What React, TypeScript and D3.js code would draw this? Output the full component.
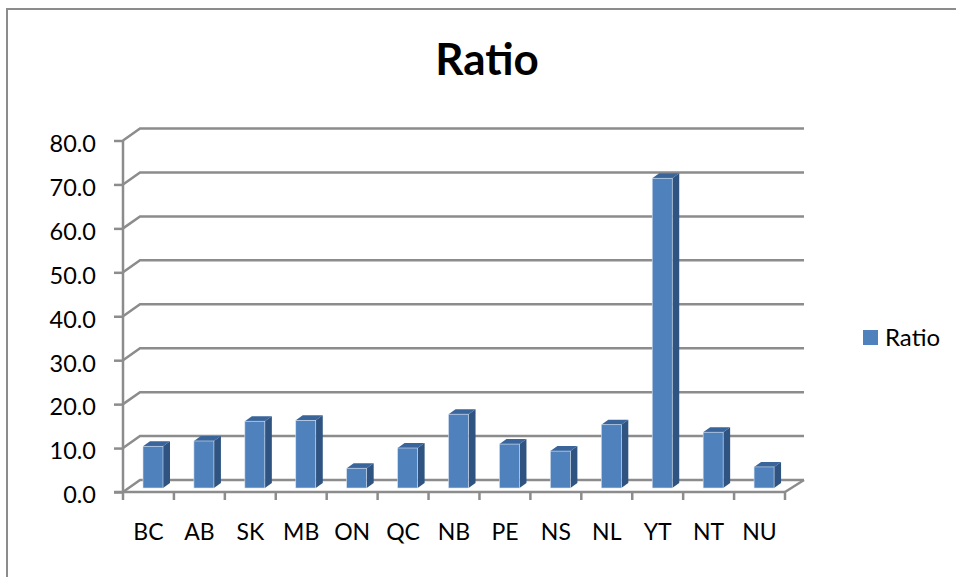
import { useEffect, useRef } from 'react'
import * as d3 from 'd3'

const categories = ['BC', 'AB', 'SK', 'MB', 'ON', 'QC', 'NB', 'PE', 'NS', 'NL', 'YT', 'NT', 'NU']
const ratioValues = [9.5, 10.7, 15.2, 15.4, 4.5, 9.1, 16.8, 10.0, 8.4, 14.4, 70.5, 12.7, 4.8]
const yTicks = [0, 10, 20, 30, 40, 50, 60, 70, 80]
const seriesName = 'Ratio'

const W = 956
const H = 577
const GRID = '#8c8c8c'
const FONT = 'Lato, Carlito, "Open Sans", sans-serif'

function render(el: SVGSVGElement) {
  const svg = d3.select(el).attr('width', W).attr('height', H).attr('viewBox', `0 0 ${W} ${H}`).style('font-family', FONT)

  const x = d3.scaleBand<string>().domain(categories).range([123, 785])
  const y = d3.scaleLinear().domain([0, 80]).range([492, 140.5])
  const backDx = 17
  const backDy = -12

  // chart frame
  svg.append('path').attr('d', `M7,${H}V9H${W}`).attr('fill', 'none').attr('stroke', GRID).attr('stroke-width', 2)

  svg.append('text')
    .attr('x', 487).attr('y', 75)
    .attr('text-anchor', 'middle')
    .attr('font-size', 44).attr('font-weight', 700).attr('fill', '#000')
    .text('Ratio')

  // back wall gridlines and their slants
  const grid = svg.append('g').attr('fill', 'none').attr('stroke', GRID).attr('stroke-width', 2.5)
  yTicks.forEach((t) => {
    grid.append('path').attr('d', `M123,${y(t)}l${backDx},${backDy}H804`)
  })
  grid.append('path').attr('d', `M123,${y(0)}V${y(80)}`)
  grid.append('path').attr('d', `M785,${y(0)}L804,${y(0) + backDy}`)

  // y axis
  svg.append('g')
    .attr('transform', 'translate(123,0)')
    .call(d3.axisLeft(y).tickValues(yTicks).tickSize(9).tickPadding(18).tickFormat((v) => (+v).toFixed(1)))
    .call((sel) => sel.select('.domain').remove())
    .call((sel) => sel.selectAll('line').attr('stroke', GRID).attr('stroke-width', 2.5))
    .call((sel) => sel.selectAll('text').attr('font-size', 23.5).attr('font-family', FONT).attr('fill', '#000').attr('dy', '0.46em'))

  // x axis
  svg.append('g')
    .attr('transform', `translate(0,${y(0)})`)
    .call(d3.axisBottom(x).tickSize(0).tickPadding(32))
    .call((sel) => sel.select('.domain').remove())
    .call((sel) => sel.selectAll('line').remove())
    .call((sel) => sel.selectAll('text').attr('font-size', 23).attr('font-family', FONT).attr('fill', '#000'))

  const axisLine = svg.append('g').attr('stroke', GRID).attr('stroke-width', 2.5).attr('fill', 'none')
  axisLine.append('line').attr('x1', 114).attr('x2', 785).attr('y1', y(0)).attr('y2', y(0))
  const edges = [...categories.map((c) => x(c)!), 785]
  edges.forEach((e) => {
    axisLine.append('line').attr('x1', e).attr('x2', e).attr('y1', y(0)).attr('y2', y(0) + 8)
  })

  // 3d columns
  const barW = 20
  const depthX = 7
  const depthY = -5
  const baseShift = -4
  const valueY = d3.scaleLinear().domain([0, 80]).range([y(0) + baseShift, y(80) + baseShift])
  const bars = svg.append('g')
  categories.forEach((c, i) => {
    const bx = x(c)! + 20
    const top = valueY(ratioValues[i])
    const bottom = valueY(0)
    const right = bx + barW
    bars.append('path')
      .attr('d', `M${right},${top}l${depthX},${depthY}V${bottom + depthY}L${right},${bottom}Z`)
      .attr('fill', '#2f5481')
    bars.append('path')
      .attr('d', `M${bx},${top}l${depthX},${depthY}h${barW}l${-depthX},${-depthY}Z`)
      .attr('fill', '#3a659b')
    bars.append('rect')
      .attr('x', bx).attr('y', top)
      .attr('width', barW).attr('height', bottom - top)
      .attr('fill', '#4f81bd')
      .attr('stroke', '#d5e0ee').attr('stroke-width', 0.6)
  })

  // legend
  svg.append('rect').attr('x', 863).attr('y', 330).attr('width', 15).attr('height', 15).attr('fill', '#4f81bd')
  svg.append('text')
    .attr('x', 885).attr('y', 346)
    .attr('font-size', 24).attr('fill', '#000')
    .text(seriesName)
}

export default function App() {
  const ref = useRef<SVGSVGElement>(null)

  useEffect(() => {
    if (!ref.current) return
    d3.select(ref.current).selectAll('*').remove()
    render(ref.current)
  }, [])

  return <svg ref={ref} style={{ position: 'absolute', left: 0, top: 0, display: 'block', background: '#fff' }} />
}
